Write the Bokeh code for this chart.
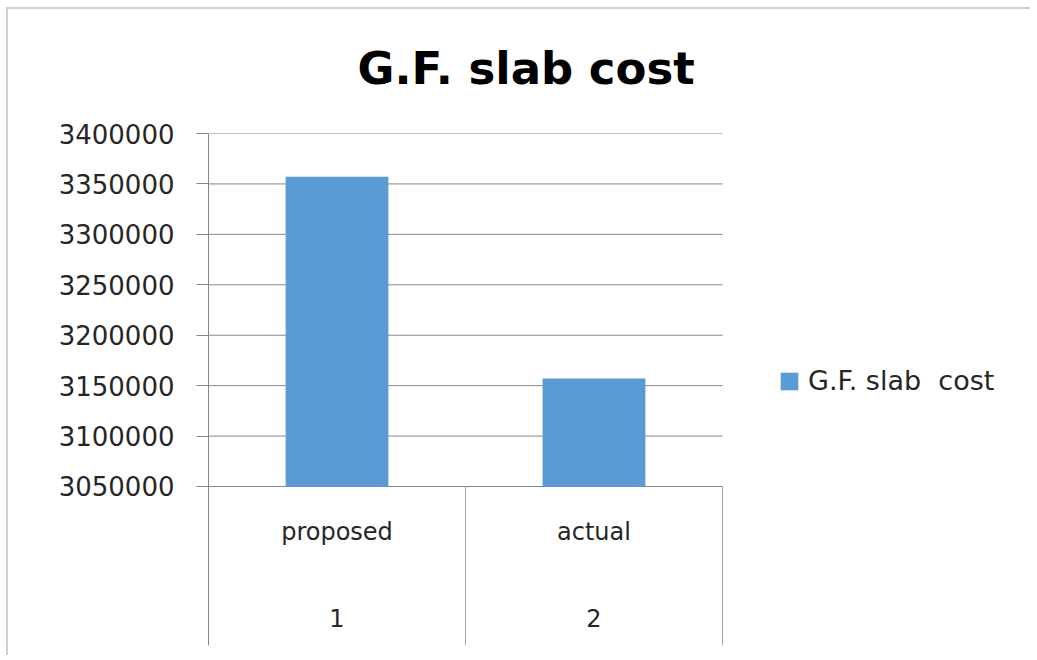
from bokeh.plotting import figure
from bokeh.models import Range1d, FixedTicker, BasicTickFormatter, ColumnDataSource, Title
from bokeh.core.properties import value
from bokeh.embed import file_html
from bokeh.resources import INLINE

# ---- data ----
categories = ["proposed", "actual"]
numbers = ["1", "2"]
costs = [3357000, 3157000]
series_name = "G.F. slab  cost"
title_text = "G.F. slab  cost"
y_ticks = [3050000, 3100000, 3150000, 3200000, 3250000, 3300000, 3350000, 3400000]

# ---- layout constants ----
W, H = 1030, 655
FONT = "DejaVu Sans"
y_top = 3400000
y_axis_base = 3050000
y_bottom = 2892350          # bottom of the category box area
label_level_1 = 3004400     # row of category names
label_level_2 = 2920100     # row of numbers
n = len(categories)
x_end = n * (1020 - 208) / (722 - 208)   # frame extends right to hold the legend

p = figure(width=W, height=H, output_backend="svg", toolbar_location=None,
           x_range=Range1d(0, x_end), y_range=Range1d(y_bottom, y_top),
           x_axis_location=None, min_border_left=208, min_border_top=133,
           min_border_right=10, min_border_bottom=10,
           styles={"box-shadow": "inset 6px 7px 0 0 #ffffff, inset 8px 9px 0 0 #cfcfcf",
                   "background-color": "#ffffff"})
p.title = Title(text=title_text, align="left", offset=149, standoff=78,
                text_font=FONT, text_font_size="45px", text_font_style="bold",
                text_color="#000000")
p.outline_line_color = None
p.background_fill_color = "white"
p.border_fill_alpha = 0
p.xgrid.visible = False
p.ygrid.visible = False

xs = [i + 0.5 for i in range(n)]
src = ColumnDataSource(dict(x=xs, top=costs, cat=categories, num=numbers,
                            bottom=[y_axis_base] * n))

# horizontal gridlines over the category span only
p.segment(x0=0, y0=y_ticks, x1=n, y1=y_ticks, line_color="#868686", line_width=1)

bars = p.vbar(x="x", top="top", bottom="bottom", width=0.4, source=src,
              fill_color="#5B9BD5", line_color=None, legend_label=series_name)

# y axis
ya = p.yaxis[0]
ya.ticker = FixedTicker(ticks=y_ticks)
ya.formatter = BasicTickFormatter(use_scientific=False)
ya.axis_line_color = "#868686"
ya.major_tick_line_color = "#868686"
ya.major_tick_out = 12
ya.major_tick_in = 0
ya.minor_tick_line_color = None
ya.major_label_standoff = 22
ya.major_label_text_font = FONT
ya.major_label_text_font_size = "26px"
ya.major_label_text_color = "#262626"

# category box separators
seps = [float(i) for i in range(1, n + 1)]
p.segment(x0=seps, y0=y_axis_base, x1=seps, y1=y_bottom,
          line_color="#a6a6a6", line_width=1)

# category labels
p.text(x="x", y=label_level_1, text="cat", source=src, text_align="center",
       text_baseline="middle", text_font=value(FONT), text_font_size="24px",
       text_color="#262626")
p.text(x="x", y=label_level_2, text="num", source=src, text_align="center",
       text_baseline="middle", text_font=value(FONT), text_font_size="24px",
       text_color="#262626")

# legend
lg = p.legend[0]
lg.location = (570, 249)
lg.padding = 0
lg.margin = 0
lg.border_line_color = None
lg.background_fill_alpha = 0
lg.glyph_width = 22
lg.glyph_height = 22
lg.label_height = 22
lg.label_standoff = 8
lg.label_text_font = FONT
lg.label_text_font_size = "27px"
lg.label_text_color = "#262626"

open("out.html", "w").write(file_html(p, INLINE))
